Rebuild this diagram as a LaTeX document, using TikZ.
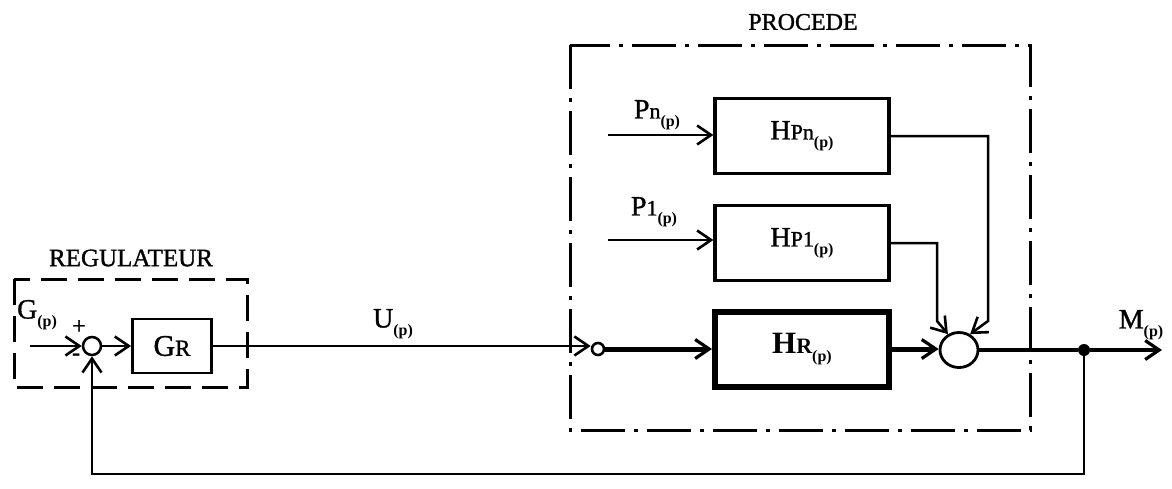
\documentclass[tikz,border=0pt]{standalone}
\usepackage{fontspec}
\setmainfont{Liberation Serif}[UprightFeatures={FakeBold=1.2}]
\usetikzlibrary{arrows.meta, positioning, shapes.geometric}
\newcommand{\pidx}{\raisebox{-8pt}{\fontsize{16}{16}\selectfont\bfseries (p)}}
\newcommand{\bigf}{\fontsize{28}{30}\selectfont}
\newcommand{\midf}{\fontsize{22}{24}\selectfont}

\begin{document}
\begin{tikzpicture}[x=1pt, y=-1pt,
    blk/.style={draw, line width=3.2pt, minimum width=174pt, minimum height=75pt, inner sep=0pt},
    sig/.style={line width=2.5pt, -{Straight Barb[length=14pt, width=19pt, line width=2.6pt]}},
    bsig/.style={line width=5pt, -{Straight Barb[length=14pt, width=19pt, line width=3.2pt]}},
    lbl/.style={inner sep=0pt, font=\bigf}]
  \useasboundingbox (0,0) rectangle (1172,488);
  % regulateur
  \draw[line width=3pt, dash pattern=on 26pt off 11pt] (14,279) rectangle (247,387);
  \node[lbl, font=\fontsize{25}{27}\selectfont] (regtitle) at (131,258) {REGULATEUR};
  \node[draw, circle, line width=2.5pt, minimum size=18pt, inner sep=0pt] (sumA) at (92,346) {};
  \node[draw, line width=2.8pt, minimum width=79pt, minimum height=54pt, inner sep=0pt] (gr) at (172,346)
    {\fontsize{30}{32}\selectfont G\fontsize{23}{25}\selectfont R};
  \coordinate (gin) at (30,346);
  \node[lbl] (glbl) at (37,315) {G\pidx};
  \node[inner sep=0pt, font=\fontsize{24}{24}\selectfont] (plus) at (79,327) {+};
  \node[inner sep=0pt, font=\fontsize{24}{24}\selectfont] (minus) at (76,357) {-};
  \draw[sig] (gin) -- (sumA);
  \draw[sig] (sumA) -- (gr);
  % procede
  \draw[line width=3pt, dash pattern=on 44pt off 9pt on 4pt off 9pt] (570,45) rectangle (1030,430);
  \node[lbl, font=\fontsize{24}{26}\selectfont] (proctitle) at (803,22) {PROCEDE};
  \node[blk] (hpn) at (802,136) {\bigf H\midf Pn\pidx};
  \node[blk] (hp1) at (802,243) {\bigf H\midf P1\pidx};
  \node[blk, line width=6pt] (hr) at (802,349) {\fontsize{31}{33}\selectfont\bfseries H\fontsize{22}{24}\selectfont R\pidx};
  \node[draw, circle, line width=2.6pt, minimum size=12pt, inner sep=0pt] (jct) at (598,349) {};
  \node[draw, ellipse, line width=2.8pt, minimum width=38pt, minimum height=35pt, inner sep=0pt] (sumB) at (959,350) {};
  \coordinate (pnin) at (608,135);
  \coordinate (p1in) at (608,240);
  \node[lbl] (pnlbl) at (657,115) {P\midf n\pidx};
  \node[lbl] (p1lbl) at (654,212) {P\midf 1\pidx};
  \draw[sig] (pnin) -- (hpn.west |- pnin);
  \draw[sig] (p1in) -- (hp1.west |- p1in);
  \draw[sig] (gr.east) -- (jct.west |- gr.east);
  \node[lbl] (ulbl) at (393,324) {U\pidx};
  \draw[bsig] (jct) -- (hr);
  \draw[bsig] (hr.east) -- (sumB.west |- hr.east);
  \draw[sig] (hpn.east) -- (988,136) -- (988,321) -- (sumB.55);
  \draw[sig] (hp1.east) -- (937,243) -- (937,321) -- (sumB.125);
  % sortie et retour
  \node[circle, fill, minimum size=12pt, inner sep=0pt] (dot) at (1084,350) {};
  \coordinate (mout) at (1162,350);
  \node[lbl] (mlbl) at (1141,325) {M\pidx};
  \draw[line width=4.2pt] (sumB) -- (dot);
  \draw[line width=3.2pt, -{Straight Barb[length=14pt, width=19pt, line width=3.2pt]}] (dot) -- (mout);
  \draw[sig] (dot) -- (1084,474) -| (sumA);
\end{tikzpicture}
\end{document}
